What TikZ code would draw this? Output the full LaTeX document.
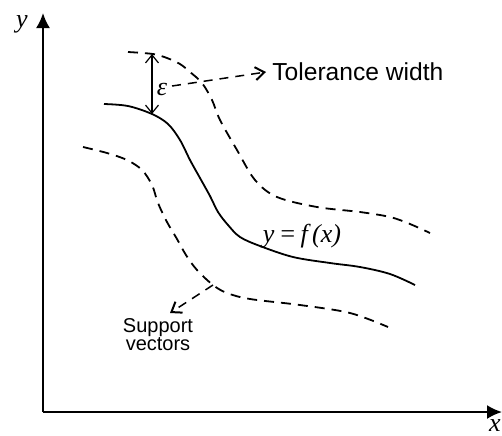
\documentclass[tikz,border=0pt]{standalone}
\usepackage{fontspec}
\setmainfont{Liberation Serif}
\newfontfamily\arial{Liberation Sans}
\usetikzlibrary{arrows.meta,positioning}
\tikzset{axis/.style = {line width=1pt, -{Latex[length=7.5pt, width=7pt]}},
         curve/.style = {line width=0.9pt, smooth, tension=0.55},
         band/.style = {curve, dash pattern=on 5pt off 3.5pt},
         pointer/.style = {line width=0.75pt, dash pattern=on 4.5pt off 3.5pt, -{Straight Barb[length=4.5pt, width=6.5pt, line width=1pt]}},
         lab/.style = {inner sep=0pt, font=\fontsize{13}{14}\selectfont\itshape},
         note/.style = {inner sep=0pt, font=\arial\fontsize{12.3}{13}\selectfont},
}

\begin{document}
\begin{tikzpicture}[x=0.5pt, y=-0.5pt]
  \useasboundingbox (0,0) rectangle (502,435);

  % axes
  \coordinate (O) at (43,412);
  \coordinate (ytop) at (43,13);
  \coordinate (xend) at (502,412);
  \draw[axis] (O) -- (ytop);
  \draw[axis] (O) -- (xend);
  \node[lab] (ylab) at (22,24) {y};
  \node[lab] (xlab) at (495,426) {x};

  % regression curve and tube
  \draw[curve] plot coordinates {(104,104) (128,106) (152,114) (168,124) (180,140) (190,160) (200,178) (210,196) (218,212) (228,225) (240,237) (260,246) (293,257) (330,263) (360,267) (390,274) (415,285)};
  \draw[band] plot coordinates {(128,52) (153,54) (167,58) (180,64) (190,72) (202,83) (212,100) (220,120) (237,150) (255,180) (277,197) (317,207) (360,212) (390,217) (410,224) (430,233)};
  \draw[band] plot coordinates {(83,147) (107,153) (127,160) (142,170) (152,185) (158,203) (167,222) (177,239) (186,255) (197,270) (213,285) (227,293) (250,299) (300,305) (350,313) (388,327)};
  \node[lab] (fx) at (302,236) {y\,=\,f\,(x)};

  % tolerance width
  \coordinate (epstop) at (152,54);
  \coordinate (epsbot) at (152,114);
  \draw[line width=0.6pt, {Straight Barb[length=4pt, width=6.5pt]}-{Straight Barb[length=4pt, width=6.5pt]}] (epstop) -- (epsbot);
  \node[lab, font=\fontsize{13}{14}\selectfont\itshape] (eps) at (162,89) {ε};
  \node[note, anchor=west] (tol) at (272,72) {Tolerance width};
  \coordinate (epsout) at (172,86);
  \draw[pointer] (epsout) -- ([xshift=-3pt]tol.west);

  % support vectors
  \coordinate (sv) at (213,285);
  \coordinate (svtip) at (170,313);
  \node[note, align=center, font=\arial\fontsize{10}{9}\selectfont] (svlab) at (158,335) {Support\\vectors};
  \draw[pointer] (sv) -- (svtip);
\end{tikzpicture}
\end{document}
